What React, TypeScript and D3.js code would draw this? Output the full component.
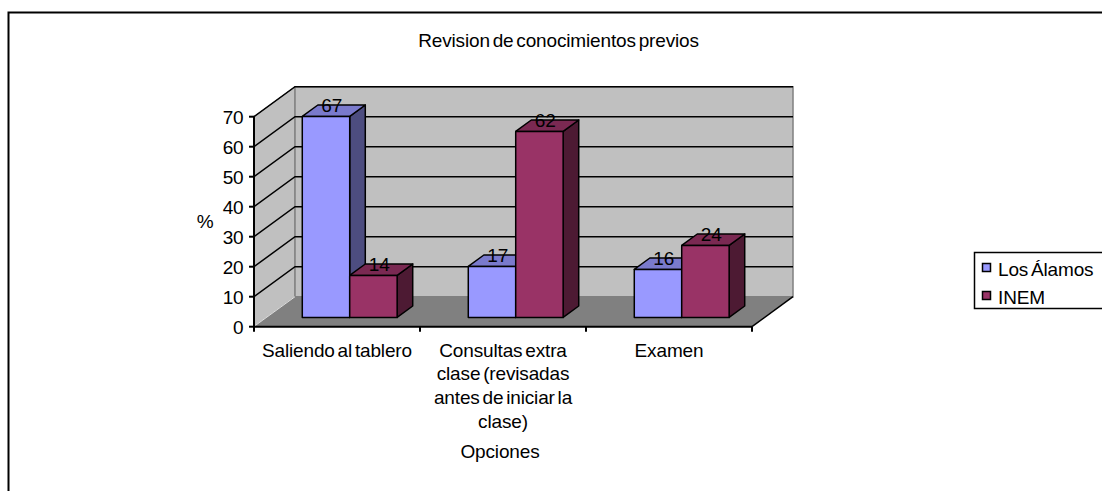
import React from "react";
import * as d3 from "d3";

const title = "Revision de conocimientos previos";
const categoryIds = ["Saliendo al tablero", "Consultas extra clase (revisadas antes de iniciar la clase)", "Examen"];
const categoryLines = [
  ["Saliendo al tablero"],
  ["Consultas extra", "clase (revisadas", "antes de iniciar la", "clase)"],
  ["Examen"],
];
const seriesNames = ["Los Álamos", "INEM"];
const losAlamos = [67, 17, 16];
const inem = [14, 62, 24];
const yTicks = [0, 10, 20, 30, 40, 50, 60, 70];
const xAxisTitle = "Opciones";
const yAxisTitle = "%";

const seriesValues = [losAlamos, inem];
const colors = [
  { front: "#9999FF", top: "#7A7ACC", side: "#4D4D80" },
  { front: "#993366", top: "#7A2952", side: "#4D1A33" },
];

const FONT = "'Liberation Sans', Arial, sans-serif";
const FS = 19;

function T({ x, y, anchor = "middle", children, size = FS }: any) {
  return (
    <text
      x={x}
      y={y}
      textAnchor={anchor}
      fontFamily={FONT}
      fontSize={size}
      fill="#000"
      style={{ wordSpacing: "-2.3px", letterSpacing: "-0.15px" }}
    >
      {children}
    </text>
  );
}

export default function App() {
  const X0 = 254, X1 = 752;
  const DX = 41, DY = -30;
  const f0 = 0.31, f1 = 0.69;

  const x = d3.scaleBand<string>().domain(categoryIds).range([X0, X1]).paddingInner(0).paddingOuter(0);
  const sub = d3.scaleBand<string>().domain(seriesNames).range([0, x.bandwidth()]).paddingInner(0).paddingOuter(0.75);
  const y = d3.scaleLinear().domain([0, 70]).range([326.7, 116.7]);

  const y0 = y(0);
  const yTop = y(70);
  const pts = (arr: number[][]) => arr.map((p) => p.join(",")).join(" ");

  const bars: any[] = [];
  const labels: any[] = [];
  categoryIds.forEach((c, ci) => {
    seriesNames.forEach((s, si) => {
      const v = seriesValues[si][ci];
      const bx = (x(c) as number) + (sub(s) as number);
      const w = sub.bandwidth();
      const yv = y(v);
      const col = colors[si];
      const fx0 = bx + f0 * DX, fx1 = bx + w + f0 * DX;
      const bx0 = bx + f1 * DX, bx1 = bx + w + f1 * DX;
      const fy0 = y0 + f0 * DY, fyv = yv + f0 * DY;
      const by0 = y0 + f1 * DY, byv = yv + f1 * DY;
      bars.push(
        <g key={`${ci}-${si}`} stroke="#000" strokeWidth={1.5} strokeLinejoin="round">
          <polygon points={pts([[fx1, fy0], [fx1, fyv], [bx1, byv], [bx1, by0]])} fill={col.side} />
          <polygon points={pts([[fx0, fyv], [fx1, fyv], [bx1, byv], [bx0, byv]])} fill={col.top} />
          <rect x={fx0} y={fyv} width={w} height={fy0 - fyv} fill={col.front} />
        </g>
      );
      labels.push(
        <T key={`l${ci}-${si}`} x={bx + w / 2 + 0.5 * (f0 + f1) * DX - 2} y={fyv - 4.3}>
          {v}
        </T>
      );
    });
  });

  return (
    <svg
      width={1102}
      height={491}
      style={{ position: "absolute", left: 0, top: 0, display: "block", background: "#fff" }}
    >
      <rect x={8.5} y={12.5} width={1110} height={500} fill="#fff" stroke="#000" strokeWidth={2} />

      <T x={558.5} y={46.7}>{title}</T>

      {/* walls */}
      <polygon points={pts([[X0, y0], [X0, yTop], [X0 + DX, yTop + DY], [X0 + DX, y0 + DY]])} fill="#C0C0C0" stroke="#808080" strokeWidth={1} />
      <polygon points={pts([[X0 + DX, yTop + DY], [X1 + DX, yTop + DY], [X1 + DX, y0 + DY], [X0 + DX, y0 + DY]])} fill="#C0C0C0" stroke="#808080" strokeWidth={1.5} />
      <polygon points={pts([[X0, y0], [X1, y0], [X1 + DX, y0 + DY], [X0 + DX, y0 + DY]])} fill="#808080" stroke="none" />
      <line x1={X0 + 1} y1={y0 - 1} x2={X0 + DX} y2={y0 + DY} stroke="#E0E0E0" strokeWidth={1} />
      <line x1={X1} y1={y0} x2={X1 + DX} y2={y0 + DY} stroke="#000" strokeWidth={1.5} />

      {/* gridlines */}
      {yTicks.filter((t) => t > 0).map((t) => (
        <polyline
          key={t}
          points={pts([[X0, y(t)], [X0 + DX, y(t) + DY], [X1 + DX, y(t) + DY]])}
          fill="none"
          stroke="#000"
          strokeWidth={1.5}
        />
      ))}

      {bars}
      {labels}

      {/* axes */}
      <line x1={X0} y1={yTop} x2={X0} y2={y0 + 1} stroke="#000" strokeWidth={2} />
      <line x1={X0} y1={y0} x2={X1} y2={y0} stroke="#000" strokeWidth={2} />
      {yTicks.map((t) => (
        <g key={t}>
          <line x1={X0 - 5} x2={X0} y1={y(t)} y2={y(t)} stroke="#000" strokeWidth={2} />
          <T x={243.5} y={y(t) + 7} anchor="end">{t}</T>
        </g>
      ))}
      {[...categoryIds.map((c) => x(c) as number), X1].map((tx, i) => (
        <line key={i} x1={tx} x2={tx} y1={y0} y2={y0 + 5} stroke="#000" strokeWidth={2} />
      ))}
      {categoryIds.map((c, ci) => (
        <g key={c}>
          {categoryLines[ci].map((ln, li) => (
            <T key={li} x={(x(c) as number) + x.bandwidth() / 2} y={356.5 + li * 23.8}>{ln}</T>
          ))}
        </g>
      ))}
      <T x={500} y={458}>{xAxisTitle}</T>
      <T x={205} y={228}>{yAxisTitle}</T>

      {/* legend */}
      <rect x={974.5} y={252.5} width={140} height={56} fill="#fff" stroke="#000" strokeWidth={1.5} />
      {seriesNames.map((s, si) => (
        <g key={s}>
          <rect x={982.5} y={263.5 + si * 28} width={8} height={8} fill={colors[si].front} stroke="#000" strokeWidth={1.5} />
          <T x={998} y={276 + si * 28.3} anchor="start">{s}</T>
        </g>
      ))}
    </svg>
  );
}
